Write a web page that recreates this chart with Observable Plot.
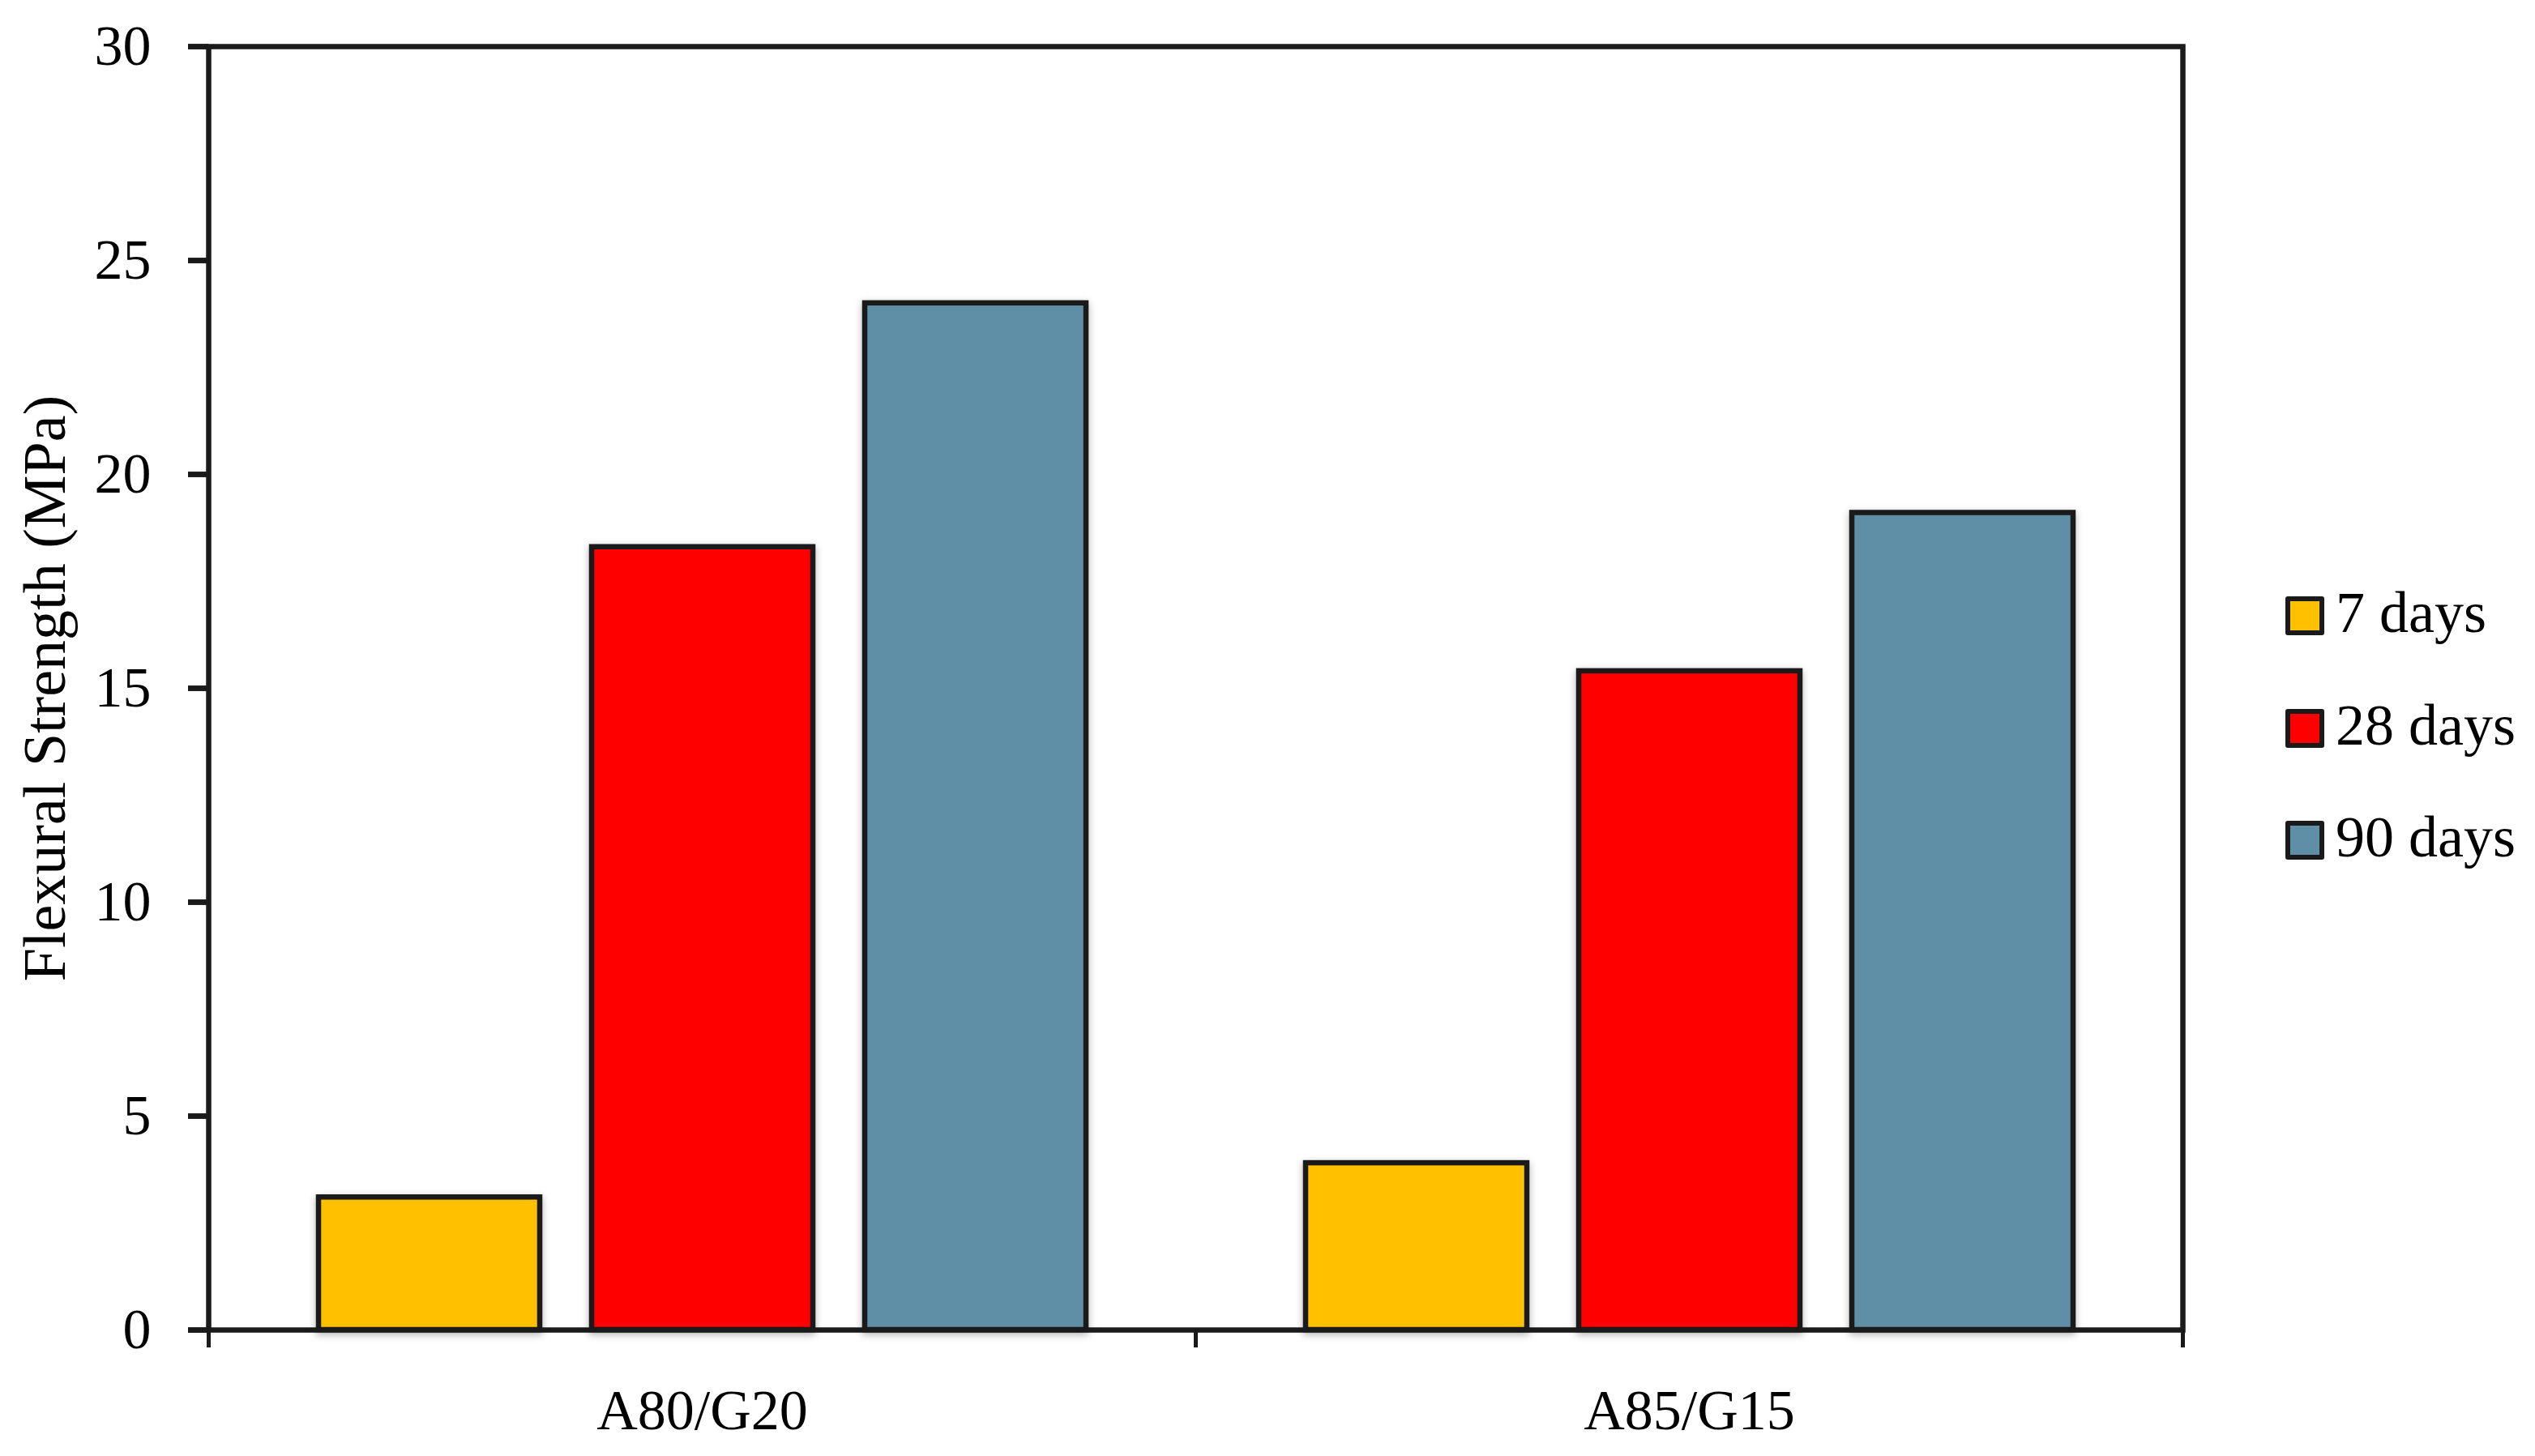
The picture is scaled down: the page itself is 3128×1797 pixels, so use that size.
<!DOCTYPE html>
<html>
<head>
<meta charset="utf-8">
<script src="https://cdn.jsdelivr.net/npm/d3@7"></script>
<script src="https://cdn.jsdelivr.net/npm/@observablehq/plot@0.6"></script>
<style>
  html, body { margin: 0; padding: 0; background: #fff; }
  #wrap { position: relative; width: 3128px; height: 1797px; }
  #legend { position: absolute; left: 2820px; top: 691px; font-family: 'Liberation Serif', serif; font-size: 72px; color: #000; }
  .row { display: flex; align-items: center; height: 138.5px; }
  .sw { width: 48px; height: 48px; box-sizing: border-box; border: 6.5px solid #1a1a1a; border-radius: 3px; margin-right: 14px; }
  .lab { line-height: 1; position: relative; top: -4px; white-space: nowrap; }
</style>
</head>
<body>
<div id="wrap"></div>
<script>
const categories = ["A80/G20", "A85/G15"];
const series = ["7 days", "28 days", "90 days"];
const values7 = [3.1, 3.9];
const values28 = [18.3, 15.4];
const values90 = [24.0, 19.1];
const colors = ["#FFC000", "#FF0000", "#5E8FA7"];
const yTicks = [0, 5, 10, 15, 20, 25, 30];
const yLabel = "Flexural Strength (MPa)";

const seriesValues = [values7, values28, values90];
const data = categories.flatMap((c, i) =>
  series.map((s, j) => ({cat: c, series: s, value: seriesValues[j][i]}))
);

const ink = "#1a1a1a";
const W = 3128, H = 1797;
const mL = 257, mR = 435, mT = 57, mB = 156;

const chart = Plot.plot({
  width: W, height: H,
  marginLeft: mL, marginRight: mR, marginTop: mT, marginBottom: mB,
  style: {fontFamily: "'Liberation Serif', serif", fontSize: "70px", color: "#000", background: "#fff"},
  fx: {domain: categories, padding: 0, label: null},
  x: {domain: series, paddingInner: 0.19, paddingOuter: 0.40, axis: null},
  y: {domain: [0, 30]},
  color: {domain: series, range: colors},
  marks: [
    Plot.barY(data, {
      fx: "cat", x: "series", y: "value", fill: "series",
      stroke: ink, strokeWidth: 6.5,
      imageFilter: "drop-shadow(0px 3px 5px rgba(0,0,0,0.3))"
    }),
    Plot.frame({facet: "super", stroke: ink, strokeWidth: 6.5}),
    Plot.frame({anchor: "left", insetTop: H - mT - mB, insetBottom: -19, stroke: ink, strokeWidth: 5}),
    Plot.frame({anchor: "right", insetTop: H - mT - mB, insetBottom: -19, stroke: ink, strokeWidth: 5}),
    Plot.axisY({
      ticks: yTicks, tickSize: 25, tickPadding: 46, stroke: ink, strokeWidth: 6.5,
      label: yLabel, labelAnchor: "center", labelOffset: 230, labelArrow: "none",
      fontSize: 74
    }),
    Plot.axisY({
      ticks: yTicks, tickSize: 25, tickPadding: 46, stroke: ink, strokeWidth: 6.5,
      label: null
    }),
    Plot.axisFx({anchor: "bottom", tickSize: 0, tickPadding: 73, label: null})
  ]
});

// keep tick labels at 70px while the axis title is 74px
chart.querySelectorAll("g[aria-label='y-axis tick label']").forEach((g, i) => {
  if (i === 0) g.remove();
});

const wrap = document.getElementById("wrap");
wrap.appendChild(chart);

const colorScale = chart.scale("color");
const legend = document.createElement("div");
legend.id = "legend";
series.forEach((s) => {
  const row = document.createElement("div");
  row.className = "row";
  const sw = document.createElement("div");
  sw.className = "sw";
  sw.style.background = colorScale.apply(s);
  const lab = document.createElement("span");
  lab.className = "lab";
  lab.textContent = s;
  row.appendChild(sw);
  row.appendChild(lab);
  legend.appendChild(row);
});
wrap.appendChild(legend);
</script>
</body>
</html>
